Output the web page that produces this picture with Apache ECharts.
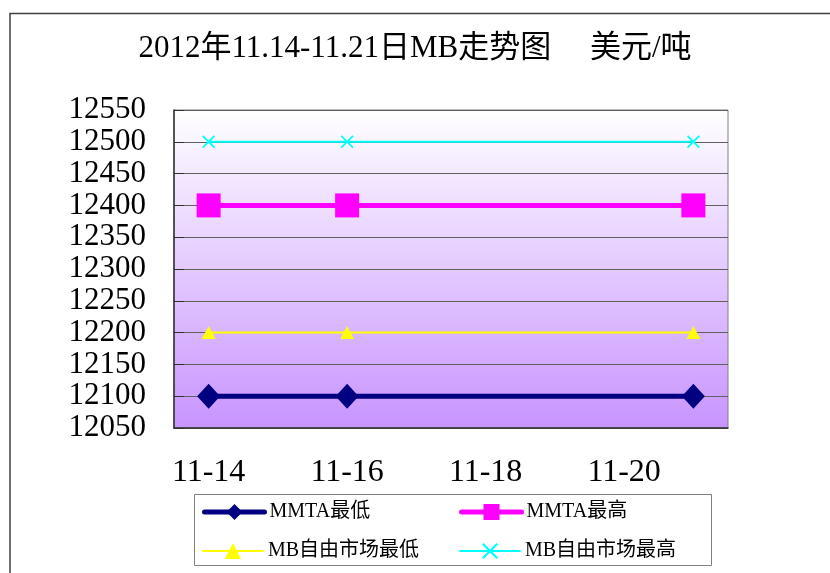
<!DOCTYPE html>
<html>
<head>
<meta charset="utf-8">
<script src="https://cdn.jsdelivr.net/npm/echarts@6/dist/echarts.min.js"></script>
<style>html,body{margin:0;padding:0;background:#fff}#c{width:830px;height:573px}</style>
</head>
<body>
<div id="c"></div>
<script>
var titleText = '2012年11.14-11.21日MB走势图　 美元/吨';
var categories = ['11-14', '11-15', '11-16', '11-17', '11-18', '11-19', '11-20', '11-21'];
var yTicks = { min: 12050, max: 12550, step: 50 };
var seriesNames = ['MMTA最低', 'MMTA最高', 'MB自由市场最低', 'MB自由市场最高'];
var mmtaLow  = [12100, null, 12100, null, null, null, null, 12100];
var mmtaHigh = [12400, null, 12400, null, null, null, null, 12400];
var mbLow    = [12200, null, 12200, null, null, null, null, 12200];
var mbHigh   = [12500, null, 12500, null, null, null, null, 12500];

var serif = "'Liberation Serif', 'Noto Sans CJK SC', serif";
var xMark = 'path://M0,1 L1,0 L5,4 L9,0 L10,1 L6,5 L10,9 L9,10 L5,6 L1,10 L0,9 L4,5 Z';

var chart = echarts.init(document.getElementById('c'));
function legendAt(name, left, top, lw) {
  return {
    data: [name], left: left, top: top, itemWidth: 60, itemHeight: 20, itemGap: 0, padding: 0,
    lineStyle: { width: lw, cap: 'round' },
    textStyle: { fontFamily: serif, fontSize: 20, color: '#000' },
    selectedMode: false
  };
}
chart.setOption({
  animation: false,
  backgroundColor: '#fff',
  title: {
    text: titleText, left: 'center', top: 28,
    textStyle: { fontFamily: serif, fontSize: 31, fontWeight: 'normal', color: '#000' }
  },
  graphic: [
    { type: 'rect', shape: { x: 10, y: 13.5, width: 900, height: 700 }, style: { fill: 'none', stroke: '#404040', lineWidth: 1.5 }, silent: true, z: -1 },
    { type: 'rect', shape: { x: 194.5, y: 494.5, width: 517, height: 71 }, style: { fill: '#fff', stroke: '#808080', lineWidth: 1 }, silent: true, z: -1 }
  ],
  legend: [
    legendAt(seriesNames[0], 202, 502, 5),
    legendAt(seriesNames[1], 459, 502, 5),
    legendAt(seriesNames[2], 202, 541, 2),
    legendAt(seriesNames[3], 459, 541, 2)
  ],
  grid: {
    left: 174, right: 102, top: 110, bottom: 145,
    show: true, borderColor: '#808080', borderWidth: 1,
    backgroundColor: new echarts.graphic.LinearGradient(0, 0, 0, 1, [
      { offset: 0, color: '#ffffff' },
      { offset: 1, color: '#c894ff' }
    ])
  },
  xAxis: {
    type: 'category', data: categories, boundaryGap: true,
    axisLine: { lineStyle: { color: '#303030', width: 1.5 } },
    axisTick: { inside: true, length: 10, interval: 1, lineStyle: { color: '#505050' } },
    axisLabel: { interval: 1, margin: 29, fontFamily: serif, fontSize: 32, color: '#000' },
    splitLine: { show: false }
  },
  yAxis: {
    type: 'value', min: yTicks.min, max: yTicks.max, interval: yTicks.step,
    axisLine: { show: true, lineStyle: { color: '#303030', width: 1.5 } },
    axisTick: { show: true, inside: true, length: 10, lineStyle: { color: '#303030' } },
    axisLabel: { margin: 28, fontFamily: serif, fontSize: 31, color: '#000',
      showMinLabel: true, showMaxLabel: true, hideOverlap: false,
      formatter: function (v) { return String(v); } },
    splitLine: { show: true, lineStyle: { color: '#606060', width: 1 } }
  },
  series: [
    { name: seriesNames[0], type: 'line', data: mmtaLow, connectNulls: true,
      symbol: 'diamond', symbolSize: [23, 25],
      lineStyle: { color: '#000080', width: 5 }, itemStyle: { color: '#000080' }, z: 4 },
    { name: seriesNames[1], type: 'line', data: mmtaHigh, connectNulls: true,
      symbol: 'rect', symbolSize: 24,
      lineStyle: { color: '#ff00ff', width: 5 }, itemStyle: { color: '#ff00ff' }, z: 3 },
    { name: seriesNames[2], type: 'line', data: mbLow, connectNulls: true,
      symbol: 'triangle', symbolSize: [14, 13],
      lineStyle: { color: '#ffff00', width: 2 }, itemStyle: { color: '#ffff00' }, z: 2 },
    { name: seriesNames[3], type: 'line', data: mbHigh, connectNulls: true,
      symbol: xMark, symbolSize: 13,
      lineStyle: { color: '#00ffff', width: 2 }, itemStyle: { color: '#00ffff' }, z: 1 }
  ]
});
</script>
</body>
</html>
